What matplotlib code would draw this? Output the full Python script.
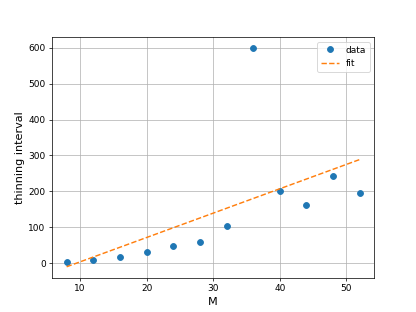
import numpy as np
import matplotlib
matplotlib.use("Agg")
import matplotlib.pyplot as plt

M = [8, 12, 16, 20, 24, 28, 32, 36, 40, 44, 48, 52]
thinning = [5, 10, 17, 31, 49, 60, 104, 598, 200, 163, 243, 196]

coef = np.polyfit(M, thinning, 1)
fit = np.polyval(coef, M)

fig, ax = plt.subplots(figsize=(6.4, 4.8), dpi=65)
ax.plot(M, thinning, 'o', markersize=6.5, label='data')
ax.plot(M, fit, '--', linewidth=1.6, label='fit')
ax.set_xlabel('M', fontsize=12.5)
ax.set_ylabel('thinning interval', fontsize=12.5)
ax.grid(True)
ax.legend()
fig.savefig('out.png', dpi=65)
